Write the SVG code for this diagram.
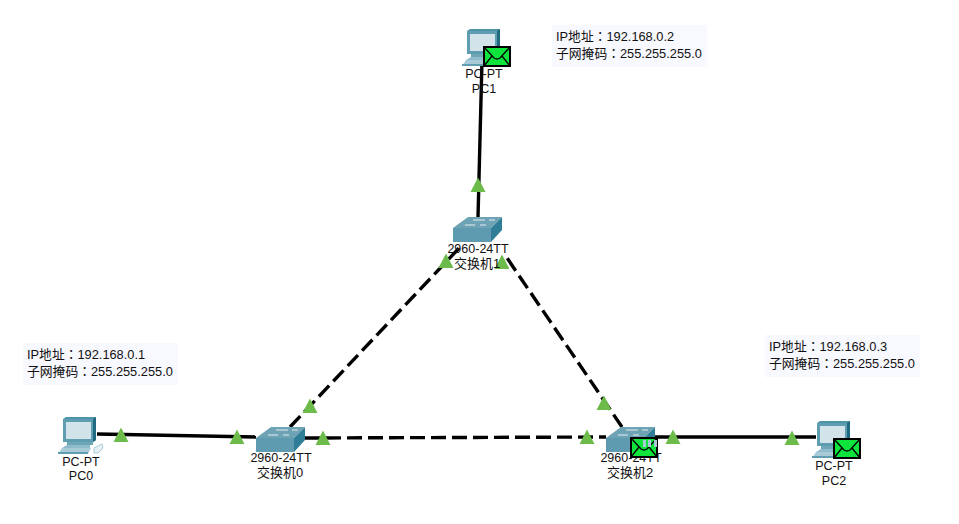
<svg xmlns="http://www.w3.org/2000/svg" width="959" height="524" viewBox="0 0 959 524">
<style>
text{font-family:"Liberation Sans","Noto Sans CJK TC",sans-serif;font-size:12.5px;fill:#111}
.lb{text-anchor:middle}
.cj{font-size:13px}
.nb{font-size:12.8px}
.ln{stroke:#000;stroke-width:3.4;fill:none}
.ds{stroke-dasharray:15 6}
.note{fill:#f8f8ff}
.tri{fill:#6cbb4b}
</style>
<defs>
<symbol id="pc" width="46" height="37" viewBox="0 0 46 37" overflow="visible">
<polygon points="5,2 8,0 38,0 38,23 35,25 5,25" fill="#4f93a8"/>
<polygon points="35,2 38,0 38,23 35,25" fill="#1f6a80"/>
<rect x="5" y="2" width="30" height="23" fill="#5f9db0"/>
<rect x="8" y="5" width="25" height="17" fill="#d3e3ea"/>
<rect x="9" y="25" width="26" height="3" fill="#6ea6b8"/>
<polygon points="4,31 32,31 32,28 9,28" fill="#8fbccb"/>
<polygon points="0,37 30,37 33,31 4,31" fill="#a9cbd7"/>
<rect x="0" y="35" width="30" height="2" fill="#5f9db0"/>
<path d="M36 31l8-4 1 4-5 5h-4z" fill="#e8f0f3" stroke="#a9cbd7"/>
</symbol>
<symbol id="sw" width="49" height="25" viewBox="0 0 49 25" overflow="visible">
<polygon points="0,11 38,11 49,0 15,0" fill="#6da3b4"/>
<polygon points="38,11 49,0 49,13 38,25" fill="#2f7d96"/>
<rect x="0" y="11" width="38" height="14" fill="#5e9bb0"/>
<path d="M12 8h10M27 8h6M20 3h12M36 3h6" stroke="#e4eef2" stroke-width="1.2" fill="none"/>
</symbol>
<symbol id="mail" width="28" height="21" viewBox="0 0 28 21" overflow="visible">
<rect x="1" y="1" width="26" height="19" fill="#0de43c" stroke="#000" stroke-width="2"/>
<path d="M1 1l10 11q3 2 6 0L27 1M1 20l8-10M27 20l-8-10" fill="none" stroke="#000" stroke-width="1.3"/>
</symbol>
<polygon id="t" class="tri" points="0,-7.5 7.5,7 -7.5,7"/>
</defs>

<g id="connectors">
<path class="ln" d="M97 434L256 437"/>
<path class="ln" d="M482 60L478 217"/>
<path class="ln" d="M655 437L816 437"/>
<path class="ln ds" d="M290 427L462 245"/>
<path class="ln ds" d="M622 427L505 255"/>
<path class="ln ds" d="M305 438L606 437"/>
</g>

<g id="link-lights">
<use href="#t" x="121" y="435"/><use href="#t" x="237" y="437"/>
<use href="#t" x="310" y="406"/><use href="#t" x="323" y="438"/>
<use href="#t" x="446" y="261"/><use href="#t" x="502" y="262"/>
<use href="#t" x="478" y="185"/><use href="#t" x="587" y="437"/>
<use href="#t" x="604" y="403"/><use href="#t" x="673" y="437"/>
<use href="#t" x="792" y="438"/>
</g>

<g id="pc0">
<use href="#pc" x="58" y="417"/>
<text class="lb" x="81" y="466">PC-PT</text><text class="lb" x="81" y="480">PC0</text>
</g>
<g id="pc1">
<use href="#pc" x="462" y="29"/>
<text class="lb" x="484" y="78">PC-PT</text><text class="lb" x="484" y="93">PC1</text>
<use href="#mail" x="483" y="46"/>
</g>
<g id="pc2">
<use href="#pc" x="812" y="421"/>
<text class="lb" x="834" y="470">PC-PT</text><text class="lb" x="834" y="485">PC2</text>
<use href="#mail" x="833" y="438"/>
</g>
<g id="switch0">
<use href="#sw" x="256" y="427"/>
<text class="lb" x="281" y="462">2960-24TT</text><text class="lb cj" x="280" y="477">交换机0</text>
</g>
<g id="switch1">
<use href="#sw" x="453" y="217"/>
<text class="lb" x="478" y="253">2960-24TT</text><text class="lb cj" x="477" y="268">交换机1</text>
</g>
<g id="switch2">
<use href="#sw" x="606" y="427"/>
<text class="lb" x="631" y="462">2960-24TT</text><text class="lb cj" x="630" y="477">交换机2</text>
<use href="#mail" x="630" y="437"/>
<path d="M643 440h3v7h-3zM648 440h3v7h-3zM654 440h3v7h-3z" fill="#a9c9d6"/>
</g>

<g id="note-pc0">
<rect class="note" x="23" y="343" width="155" height="42"/>
<text class="nb" x="27" y="359">IP地址：192.168.0.1</text>
<text class="nb" x="27" y="376">子网掩码：255.255.255.0</text>
</g>
<g id="note-pc1">
<rect class="note" x="552" y="25" width="155" height="42"/>
<text class="nb" x="556" y="41">IP地址：192.168.0.2</text>
<text class="nb" x="556" y="58">子网掩码：255.255.255.0</text>
</g>
<g id="note-pc2">
<rect class="note" x="765" y="335" width="155" height="42"/>
<text class="nb" x="769" y="351">IP地址：192.168.0.3</text>
<text class="nb" x="769" y="368">子网掩码：255.255.255.0</text>
</g>
</svg>
